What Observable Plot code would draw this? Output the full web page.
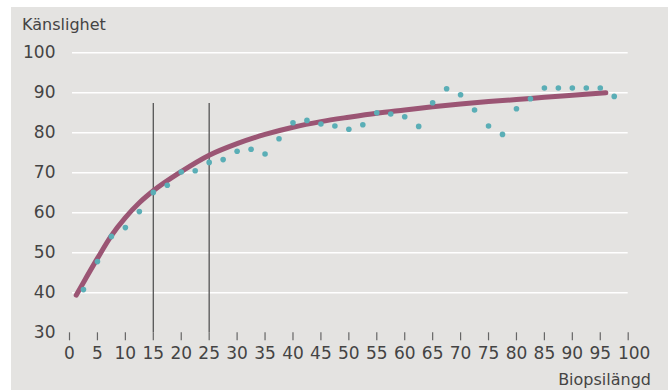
<!DOCTYPE html>
<html>
<head>
<meta charset="utf-8">
<script src="https://cdn.jsdelivr.net/npm/d3@7"></script>
<script src="https://cdn.jsdelivr.net/npm/@observablehq/plot@0.6"></script>
<style>
  html, body { margin: 0; padding: 0; background: #ffffff; }
  #wrap { position: absolute; left: 11px; top: 7px; width: 657px; height: 383px; background: #e4e3e1; overflow: hidden; }
  .ttl { position: absolute; font-family: "DejaVu Sans", sans-serif; font-size: 16px; color: #444444; line-height: 1; white-space: nowrap; }
  #ytitle { left: 11px; top: 10px; }
  #xtitle { right: 17px; top: 365px; }
  svg { position: absolute; left: 0; top: 0; }
</style>
</head>
<body>
<div id="wrap">
  <div id="ytitle" class="ttl">Känslighet</div>
  <div id="xtitle" class="ttl">Biopsilängd</div>
</div>
<script>
// Observed sensitivity by biopsy length
const dotX = [2.5, 5, 7.5, 10, 12.5, 15, 17.5, 20, 22.5, 25, 27.5, 30, 32.5, 35, 37.5, 40, 42.5, 45, 47.5, 50, 52.5, 55, 57.5, 60, 62.5, 65, 67.5, 70, 72.5, 75, 77.5, 80, 82.5, 85, 87.5, 90, 92.5, 95, 97.5];
const dotY = [40.8, 47.8, 54.1, 56.3, 60.3, 65.1, 66.9, 70.2, 70.5, 72.6, 73.3, 75.4, 75.9, 74.7, 78.5, 82.5, 83.1, 82.2, 81.7, 80.9, 82.0, 85.0, 84.7, 84.0, 81.6, 87.5, 91.0, 89.5, 85.7, 81.7, 79.6, 86.0, 88.5, 91.2, 91.2, 91.2, 91.2, 91.2, 89.1];

// Fitted curve
const curveX = [1.2, 2.5, 5, 7.5, 10, 12.5, 15, 20, 25, 30, 35, 40, 45, 50, 55, 60, 65, 70, 75, 80, 85, 90, 96];
const curveY = [39.4, 42.6, 48.6, 54.3, 58.8, 62.5, 65.5, 70.3, 74.4, 77.3, 79.6, 81.4, 82.8, 83.9, 84.9, 85.7, 86.5, 87.2, 87.8, 88.3, 88.9, 89.4, 90.0];

// Reference lines
const refX = [15, 25];
const refTop = 87.3;

const xTicks = [0, 5, 10, 15, 20, 25, 30, 35, 40, 45, 50, 55, 60, 65, 70, 75, 80, 85, 90, 95, 100];
const xLastTick = [100];
const yTicks = [30, 40, 50, 60, 70, 80, 90, 100];
const gridTicks = [40, 50, 60, 70, 80, 90, 100];

const dots = dotX.map((x, i) => ({x, y: dotY[i]}));
const curve = curveX.map((x, i) => ({x, y: curveY[i]}));
const refs = refX.map(x => ({x, y1: 30, y2: refTop}));

const txt = "#444444";
const chart = Plot.plot({
  width: 657,
  height: 383,
  marginLeft: 58,
  marginRight: 40.3,
  marginTop: 45.3,
  marginBottom: 57.7,
  style: { background: "transparent", fontFamily: "DejaVu Sans, sans-serif", fontSize: "17px", color: txt },
  x: { domain: [0, 100] },
  y: { domain: [30, 100] },
  marks: [
    Plot.ruleY(gridTicks, { stroke: "#ffffff", strokeWidth: 1.6, insetLeft: 3 }),
    Plot.ruleX(refs, { x: "x", y1: "y1", y2: "y2", stroke: "#555555", strokeWidth: 1.3 }),
    Plot.axisY({ ticks: yTicks, tickSize: 0, tickPadding: 14, label: null, fontSize: 17, fill: txt }),
    Plot.axisX({ ticks: xTicks, tickSize: 8, tickPadding: 6, label: null, text: null, stroke: "#666666", strokeWidth: 1.2 }),
    Plot.axisX({ ticks: xTicks.filter(t => !xLastTick.includes(t)), tickSize: 0, tickPadding: 14, label: null, fontSize: 17, fill: txt }),
    Plot.axisX({ ticks: xLastTick, tickSize: 0, tickPadding: 14, label: null, fontSize: 17, fill: txt, dx: 6 }),
    Plot.line(curve, { x: "x", y: "y", curve: "monotone-x", stroke: "#9b5574", strokeWidth: 5 }),
    Plot.dot(dots, { x: "x", y: "y", r: 2.8, fill: "#5aaeb6", stroke: "none" })
  ]
});
document.getElementById("wrap").appendChild(chart);
</script>
</body>
</html>
